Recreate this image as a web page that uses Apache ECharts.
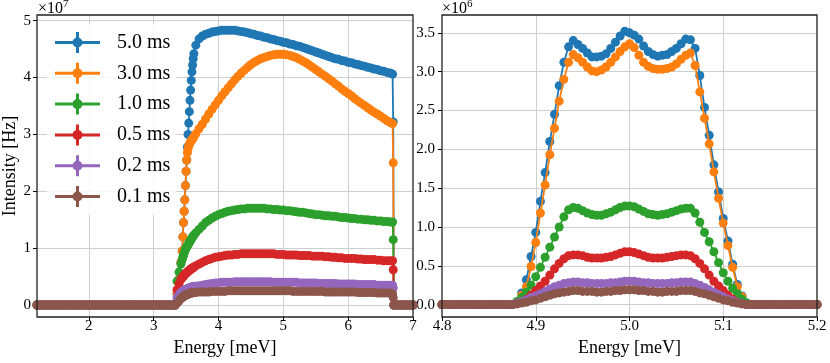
<!DOCTYPE html>
<html>
<head>
<meta charset="utf-8">
<script src="https://cdn.jsdelivr.net/npm/echarts@6/dist/echarts.min.js"></script>
<style>
  html, body { margin: 0; padding: 0; background: #fff; }
  #chart { width: 830px; height: 363px; }
</style>
</head>
<body>
<div id="chart"></div>
<script>
const serif = "'Liberation Serif', 'DejaVu Serif', serif";
const legendNames = ['5.0 ms', '3.0 ms', '1.0 ms', '0.5 ms', '0.2 ms', '0.1 ms'];
const colors = ['#1f77b4', '#ff7f0e', '#2ca02c', '#d62728', '#9467bd', '#8c564b'];

// left panel: energy [meV], intensity in units of 1e7 Hz
const eLeft = [
  1.20, 1.25, 1.30, 1.35, 1.40, 1.45, 1.50, 1.55, 1.60, 1.65,
  1.70, 1.75, 1.80, 1.85, 1.90, 1.95, 2.00, 2.05, 2.10, 2.15,
  2.20, 2.25, 2.30, 2.35, 2.40, 2.45, 2.50, 2.55, 2.60, 2.65,
  2.70, 2.75, 2.80, 2.85, 2.90, 2.95, 3.00, 3.05, 3.10, 3.15,
  3.20, 3.25, 3.30,
  3.33, 3.36, 3.39, 3.42, 3.44, 3.45, 3.46, 3.47, 3.48, 3.49, 3.50, 3.51, 3.52,
  3.53, 3.54, 3.55, 3.56, 3.57, 3.58, 3.59, 3.60, 3.61, 3.62, 3.65, 3.70,
  3.75, 3.80, 3.85, 3.90, 3.95, 4.00, 4.05, 4.10, 4.15, 4.20,
  4.25, 4.30, 4.35, 4.40, 4.45, 4.50, 4.55, 4.60, 4.65, 4.70,
  4.75, 4.80, 4.85, 4.90, 4.95, 5.00, 5.05, 5.10, 5.15, 5.20,
  5.25, 5.30, 5.35, 5.40, 5.45, 5.50, 5.55, 5.60, 5.65, 5.70,
  5.75, 5.80, 5.85, 5.90, 5.95, 6.00, 6.05, 6.10, 6.15, 6.20,
  6.25, 6.30, 6.35, 6.40, 6.45, 6.50, 6.55, 6.60, 6.65,
  6.685, 6.695, 6.705, 6.75, 6.80, 6.85, 6.90, 6.95, 7.00
];
// flat baseline below the threshold (1.20 .. 3.30) and above the cut-off (6.705 .. 7.00)
const flatLow = [
  0, 0, 0, 0, 0, 0, 0, 0, 0, 0,
  0, 0, 0, 0, 0, 0, 0, 0, 0, 0,
  0, 0, 0, 0, 0, 0, 0, 0, 0, 0,
  0, 0, 0, 0, 0, 0, 0, 0, 0, 0,
  0, 0, 0
];
const flatHigh = [0, 0, 0, 0, 0, 0, 0];

const left50 = [...flatLow,
  0, 0.2, 0.45, 0.75, 0.95, 1.2, 1.45, 1.65, 1.85, 2.1, 2.35, 2.55, 2.78,
  3.0, 3.2, 3.4, 3.6, 3.78, 3.95, 4.1, 4.22, 4.33, 4.42, 4.57, 4.68,
  4.73, 4.76, 4.78, 4.80, 4.81, 4.82, 4.83, 4.83, 4.83, 4.83,
  4.83, 4.82, 4.81, 4.80, 4.79, 4.77, 4.76, 4.74, 4.73, 4.71,
  4.70, 4.68, 4.67, 4.65, 4.64, 4.62, 4.61, 4.59, 4.58, 4.56,
  4.55, 4.53, 4.51, 4.49, 4.47, 4.45, 4.43, 4.41, 4.39, 4.37,
  4.35, 4.33, 4.32, 4.30, 4.29, 4.27, 4.26, 4.24, 4.23, 4.21,
  4.20, 4.18, 4.17, 4.15, 4.14, 4.12, 4.11, 4.09, 4.08,
  4.06, 3.22, ...flatHigh
];
const left30 = [...flatLow,
  0, 0.2, 0.45, 0.75, 0.95, 1.2, 1.45, 1.65, 1.85, 2.1, 2.35, 2.55, 2.68,
  2.75, 2.8, 2.82, 2.85, 2.87, 2.89, 2.91, 2.92, 2.94, 2.96, 3.01, 3.10,
  3.18, 3.27, 3.36, 3.44, 3.52, 3.60, 3.68, 3.75, 3.82, 3.89,
  3.96, 4.02, 4.08, 4.13, 4.18, 4.23, 4.27, 4.30, 4.33, 4.35,
  4.37, 4.39, 4.40, 4.41, 4.41, 4.41, 4.40, 4.39, 4.37, 4.35,
  4.32, 4.29, 4.26, 4.22, 4.18, 4.14, 4.10, 4.06, 4.02, 3.98,
  3.94, 3.89, 3.85, 3.80, 3.76, 3.72, 3.68, 3.63, 3.59, 3.55,
  3.51, 3.47, 3.43, 3.39, 3.36, 3.32, 3.28, 3.24, 3.21,
  3.19, 2.50, ...flatHigh
];
const left10 = [...flatLow,
  0, 0.42, 0.58, 0.72, 0.8, 0.84, 0.88, 0.91, 0.95, 0.98, 1.0, 1.02, 1.04,
  1.06, 1.08, 1.1, 1.12, 1.14, 1.16, 1.18, 1.2, 1.21, 1.23, 1.27, 1.33,
  1.39, 1.45, 1.49, 1.53, 1.56, 1.59, 1.61, 1.63, 1.65, 1.66,
  1.67, 1.68, 1.69, 1.69, 1.70, 1.70, 1.70, 1.70, 1.70, 1.70,
  1.69, 1.69, 1.68, 1.68, 1.67, 1.67, 1.66, 1.66, 1.65, 1.64,
  1.63, 1.63, 1.62, 1.61, 1.60, 1.59, 1.59, 1.58, 1.57, 1.57,
  1.56, 1.56, 1.55, 1.54, 1.54, 1.53, 1.52, 1.52, 1.51, 1.51,
  1.50, 1.50, 1.49, 1.49, 1.48, 1.48, 1.47, 1.47, 1.46,
  1.46, 1.15, ...flatHigh
];
const left05 = [...flatLow,
  0, 0.27, 0.37, 0.45, 0.48, 0.5, 0.51, 0.52, 0.54, 0.55, 0.56, 0.57, 0.58,
  0.59, 0.6, 0.61, 0.62, 0.63, 0.64, 0.64, 0.65, 0.66, 0.67, 0.69, 0.72,
  0.75, 0.78, 0.80, 0.82, 0.84, 0.85, 0.86, 0.87, 0.88, 0.88,
  0.89, 0.89, 0.90, 0.90, 0.90, 0.90, 0.90, 0.90, 0.90, 0.90,
  0.90, 0.90, 0.90, 0.89, 0.89, 0.89, 0.88, 0.88, 0.88, 0.88,
  0.87, 0.87, 0.87, 0.87, 0.86, 0.86, 0.86, 0.86, 0.85, 0.85,
  0.84, 0.84, 0.83, 0.83, 0.82, 0.82, 0.82, 0.82, 0.81, 0.81,
  0.80, 0.80, 0.80, 0.80, 0.79, 0.79, 0.78, 0.78, 0.78,
  0.78, 0.62, ...flatHigh
];
const left02 = [...flatLow,
  0, 0.13, 0.18, 0.22, 0.24, 0.25, 0.25, 0.26, 0.27, 0.27, 0.28, 0.28, 0.29,
  0.29, 0.3, 0.3, 0.31, 0.31, 0.31, 0.32, 0.32, 0.32, 0.33, 0.33, 0.34,
  0.35, 0.36, 0.37, 0.38, 0.39, 0.39, 0.40, 0.40, 0.40, 0.40,
  0.41, 0.41, 0.41, 0.41, 0.41, 0.41, 0.41, 0.41, 0.41, 0.41,
  0.41, 0.41, 0.40, 0.40, 0.40, 0.40, 0.40, 0.40, 0.40, 0.40,
  0.39, 0.39, 0.39, 0.39, 0.39, 0.39, 0.38, 0.38, 0.38, 0.38,
  0.38, 0.38, 0.37, 0.37, 0.37, 0.37, 0.37, 0.37, 0.36, 0.36,
  0.36, 0.36, 0.36, 0.36, 0.35, 0.35, 0.35, 0.35, 0.35,
  0.35, 0.30, ...flatHigh
];
const left01 = [...flatLow,
  0, 0.03, 0.07, 0.11, 0.13, 0.14, 0.15, 0.16, 0.17, 0.17, 0.18, 0.18, 0.19,
  0.19, 0.2, 0.2, 0.21, 0.21, 0.21, 0.21, 0.22, 0.22, 0.22, 0.22, 0.23,
  0.23, 0.23, 0.23, 0.24, 0.24, 0.24, 0.24, 0.24, 0.25, 0.25,
  0.25, 0.25, 0.25, 0.25, 0.25, 0.25, 0.25, 0.25, 0.25, 0.25,
  0.25, 0.25, 0.25, 0.25, 0.25, 0.25, 0.25, 0.25, 0.24, 0.24,
  0.24, 0.24, 0.24, 0.24, 0.24, 0.24, 0.24, 0.24, 0.23, 0.23,
  0.23, 0.23, 0.23, 0.23, 0.23, 0.23, 0.23, 0.23, 0.22, 0.22,
  0.22, 0.22, 0.22, 0.22, 0.21, 0.21, 0.21, 0.21, 0.21,
  0.20, 0.13, ...flatHigh
];

// right panel: energy [meV], intensity in units of 1e6 Hz
const eRight = [
  4.800, 4.805, 4.810, 4.815, 4.820, 4.825, 4.830, 4.835, 4.840, 4.845,
  4.850, 4.855, 4.860, 4.865, 4.870, 4.875, 4.880, 4.885, 4.890, 4.895,
  4.900, 4.905, 4.910, 4.915, 4.920, 4.925, 4.930, 4.935, 4.940, 4.945,
  4.950, 4.955, 4.960, 4.965, 4.970, 4.975, 4.980, 4.985, 4.990, 4.995,
  5.000, 5.005, 5.010, 5.015, 5.020, 5.025, 5.030, 5.035, 5.040, 5.045,
  5.050, 5.055, 5.060, 5.065, 5.070, 5.075, 5.080, 5.085, 5.090, 5.095,
  5.100, 5.105, 5.110, 5.115, 5.120, 5.125, 5.130, 5.135, 5.140, 5.145,
  5.150, 5.155, 5.160, 5.165, 5.170, 5.175, 5.180, 5.185, 5.190, 5.195,
  5.200
];
const right50 = [
  0, 0, 0, 0, 0, 0, 0, 0, 0, 0,
  0, 0, 0, 0, 0, 0, 0.02, 0.15, 0.32, 0.62,
  0.93, 1.33, 1.70, 2.10, 2.45, 2.82, 3.12, 3.32, 3.40, 3.35,
  3.30, 3.24, 3.19, 3.19, 3.20, 3.23, 3.30, 3.38, 3.46, 3.52,
  3.50, 3.47, 3.42, 3.33, 3.26, 3.22, 3.20, 3.21, 3.22, 3.26,
  3.30, 3.36, 3.42, 3.41, 3.30, 2.95, 2.54, 2.18, 1.80, 1.45,
  1.11, 0.82, 0.52, 0.26, 0.11, 0.02, 0, 0, 0, 0,
  0, 0, 0, 0, 0, 0, 0, 0, 0, 0,
  0
];
const right30 = [
  0, 0, 0, 0, 0, 0, 0, 0, 0, 0,
  0, 0, 0, 0, 0, 0, 0.02, 0.12, 0.23, 0.49,
  0.80, 1.18, 1.54, 1.93, 2.27, 2.62, 2.90, 3.12, 3.22, 3.18,
  3.12, 3.06, 3.01, 3.00, 3.02, 3.06, 3.12, 3.19, 3.26, 3.32,
  3.36, 3.31, 3.21, 3.12, 3.07, 3.04, 3.03, 3.03, 3.04, 3.06,
  3.10, 3.16, 3.21, 3.24, 3.08, 2.74, 2.40, 2.07, 1.71, 1.37,
  1.05, 0.76, 0.48, 0.23, 0.10, 0.01, 0, 0, 0, 0,
  0, 0, 0, 0, 0, 0, 0, 0, 0, 0,
  0
];
const right10 = [
  0, 0, 0, 0, 0, 0, 0, 0, 0, 0,
  0, 0, 0, 0, 0, 0, 0.04, 0.09, 0.16, 0.25,
  0.36, 0.48, 0.61, 0.74, 0.87, 1.00, 1.13, 1.22, 1.25, 1.24,
  1.21, 1.18, 1.16, 1.15, 1.15, 1.17, 1.19, 1.22, 1.25, 1.27,
  1.27, 1.26, 1.23, 1.20, 1.17, 1.16, 1.15, 1.16, 1.17, 1.19,
  1.21, 1.23, 1.24, 1.24, 1.18, 1.06, 0.93, 0.81, 0.68, 0.54,
  0.41, 0.30, 0.21, 0.14, 0.07, 0.02, 0, 0, 0, 0,
  0, 0, 0, 0, 0, 0, 0, 0, 0, 0,
  0
];
const right05 = [
  0, 0, 0, 0, 0, 0, 0, 0, 0, 0,
  0, 0, 0, 0, 0, 0, 0.01, 0.03, 0.07, 0.12,
  0.18, 0.24, 0.30, 0.38, 0.46, 0.53, 0.59, 0.63, 0.64, 0.64,
  0.63, 0.61, 0.60, 0.60, 0.60, 0.61, 0.62, 0.64, 0.66, 0.68,
  0.68, 0.67, 0.65, 0.63, 0.61, 0.60, 0.60, 0.60, 0.61, 0.62,
  0.63, 0.64, 0.64, 0.63, 0.59, 0.53, 0.46, 0.38, 0.30, 0.24,
  0.18, 0.12, 0.07, 0.03, 0.01, 0, 0, 0, 0, 0,
  0, 0, 0, 0, 0, 0, 0, 0, 0, 0,
  0
];
const right02 = [
  0, 0, 0, 0, 0, 0, 0, 0, 0, 0,
  0, 0, 0, 0, 0, 0, 0.02, 0.04, 0.06, 0.09,
  0.11, 0.14, 0.17, 0.20, 0.23, 0.25, 0.27, 0.28, 0.29, 0.29,
  0.28, 0.28, 0.27, 0.27, 0.27, 0.27, 0.28, 0.28, 0.29, 0.30,
  0.30, 0.30, 0.29, 0.28, 0.28, 0.27, 0.27, 0.27, 0.27, 0.28,
  0.28, 0.29, 0.29, 0.29, 0.27, 0.25, 0.22, 0.19, 0.16, 0.13,
  0.10, 0.07, 0.05, 0.03, 0.01, 0, 0, 0, 0, 0,
  0, 0, 0, 0, 0, 0, 0, 0, 0, 0,
  0
];
const right01 = [
  0, 0, 0, 0, 0, 0, 0, 0, 0, 0,
  0, 0, 0, 0, 0, 0, 0.01, 0.02, 0.03, 0.05,
  0.06, 0.08, 0.10, 0.12, 0.14, 0.15, 0.16, 0.17, 0.18, 0.18,
  0.17, 0.17, 0.17, 0.16, 0.16, 0.17, 0.17, 0.18, 0.18, 0.19,
  0.19, 0.19, 0.18, 0.18, 0.17, 0.17, 0.16, 0.16, 0.17, 0.17,
  0.17, 0.18, 0.18, 0.18, 0.17, 0.15, 0.14, 0.12, 0.10, 0.08,
  0.06, 0.05, 0.03, 0.02, 0.01, 0, 0, 0, 0, 0,
  0, 0, 0, 0, 0, 0, 0, 0, 0, 0,
  0
];

const leftSets = [left50, left30, left10, left05, left02, left01];
const rightSets = [right50, right30, right10, right05, right02, right01];

// legend icon: line + marker + vertical error bar
const errIcon = 'path://M0 9H45V12H0Z M21 0H24V21H21Z M27.5 10.5A5 5 0 1 1 17.5 10.5A5 5 0 1 1 27.5 10.5Z';

function pairs(xs, ys) {
  return xs.map((x, i) => [x, ys[i]]);
}

function lineSeries(k, ys, xs, idx) {
  return {
    name: legendNames[k],
    type: 'line',
    xAxisIndex: idx,
    yAxisIndex: idx,
    data: pairs(xs, ys),
    symbol: 'circle',
    symbolSize: 9,
    z: k + 2,
    silent: true,
    emphasis: { disabled: true },
    itemStyle: { color: colors[k], borderWidth: 0 },
    lineStyle: { color: colors[k], width: 1.8 }
  };
}

const series = [];
leftSets.forEach((ys, k) => series.push(lineSeries(k, ys, eLeft, 0)));
rightSets.forEach((ys, k) => series.push(lineSeries(k, ys, eRight, 1)));

const tickLabel = { color: '#000', fontFamily: serif, fontSize: 15 };
const gridLine = { show: true, showMinLine: false, showMaxLine: false, lineStyle: { color: '#cfcfcf', width: 1 } };
const tick = { show: true, length: 4, lineStyle: { color: '#000', width: 1 } };
const noLine = { show: false, onZero: false };

function xAx(idx, min, max, fmt) {
  return {
    gridIndex: idx, type: 'value', min: min, max: max,
    axisLine: noLine, axisTick: tick, splitLine: gridLine,
    axisLabel: Object.assign({ margin: 2, showMinLabel: idx === 1, formatter: fmt }, tickLabel),
    name: 'Energy [meV]', nameLocation: 'middle', nameGap: 22,
    nameTextStyle: { color: '#000', fontFamily: serif, fontSize: 18 }
  };
}

const chart = echarts.init(document.getElementById('chart'), null, { renderer: 'canvas' });
chart.setOption({
  animation: false,
  backgroundColor: '#fff',
  grid: [
    { left: 37, top: 15, width: 376, height: 302, show: false },
    { left: 442, top: 15, width: 375, height: 302, show: false }
  ],
  xAxis: [
    xAx(0, 1.2, 7, v => String(v)),
    xAx(1, 4.8, 5.2, v => v.toFixed(1))
  ],
  yAxis: [
    {
      gridIndex: 0, type: 'value', min: -0.21, max: 5.1,
      axisLine: noLine, axisTick: tick, splitLine: gridLine,
      axisLabel: Object.assign({ margin: 6, showMinLabel: false, showMaxLabel: false }, tickLabel),
      name: 'Intensity [Hz]', nameLocation: 'middle', nameGap: 16, nameRotate: 90,
      nameTextStyle: { color: '#000', fontFamily: serif, fontSize: 18 }
    },
    {
      gridIndex: 1, type: 'value', min: -0.16, max: 3.73, splitNumber: 8,
      axisLine: noLine, axisTick: tick, splitLine: gridLine,
      axisLabel: Object.assign({ margin: 7, showMinLabel: false, showMaxLabel: false, formatter: v => v.toFixed(1) }, tickLabel)
    }
  ],
  legend: {
    data: legendNames,
    orient: 'vertical',
    left: 47, top: 24,
    padding: [8, 6, 8, 8],
    backgroundColor: 'rgba(255,255,255,0.85)',
    itemWidth: 45, itemHeight: 21, itemGap: 9.8,
    icon: errIcon,
    selectedMode: false,
    z: 20,
    itemStyle: { borderWidth: 0 },
    textStyle: { color: '#000', fontFamily: serif, fontSize: 20, padding: [0, 0, 0, 12] }
  },
  graphic: [
    { type: 'rect', z: 30, silent: true, shape: { x: 37, y: 15, width: 376, height: 302 }, style: { fill: 'none', stroke: '#222', lineWidth: 1.3 } },
    { type: 'rect', z: 30, silent: true, shape: { x: 442, y: 15, width: 375, height: 302 }, style: { fill: 'none', stroke: '#222', lineWidth: 1.3 } },
    { type: 'text', z: 30, left: 38, top: 1, style: { text: '×10', fontFamily: serif, fontSize: 16, fill: '#000' } },
    { type: 'text', z: 30, left: 63, top: -1, style: { text: '7', fontFamily: serif, fontSize: 11, fill: '#000' } },
    { type: 'text', z: 30, left: 442, top: 1, style: { text: '×10', fontFamily: serif, fontSize: 16, fill: '#000' } },
    { type: 'text', z: 30, left: 467, top: -1, style: { text: '6', fontFamily: serif, fontSize: 11, fill: '#000' } }
  ],
  series: series
});
</script>
</body>
</html>
